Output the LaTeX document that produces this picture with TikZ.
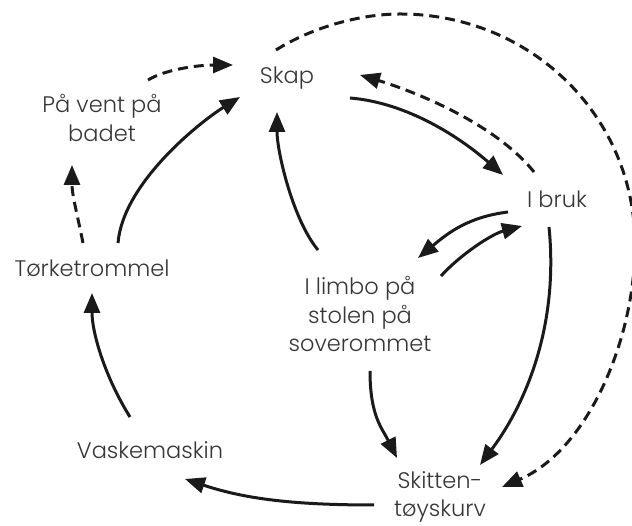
\documentclass[tikz,border=0pt]{standalone}
\usepackage{fontspec}
\setmainfont{Poppins}[UprightFont=* Light]
\usetikzlibrary{arrows.meta}
\definecolor{txt}{HTML}{363636}
\definecolor{ln}{HTML}{1A1A1A}
\tikzset{
  lbl/.style={text=txt,font=\fontsize{22.5}{28.5}\selectfont,align=center,inner sep=0pt},
  conn/.style={draw=ln,line width=3pt,-{Triangle[length=20pt,width=16pt]}},
  dconn/.style={conn,dash pattern=on 10pt off 6pt}
}
\begin{document}
\begin{tikzpicture}[x=1pt,y=1pt]
\useasboundingbox (0,0) rectangle (632,526);
\node[lbl] (skap) at (287,448) {Skap};
\node[lbl] (pavent) at (102,408) {På vent på\\badet};
\node[lbl] (bruk) at (557,327) {I bruk};
\node[lbl] (tork) at (92,258) {Tørketrommel};
\node[lbl] (limbo) at (360,212) {I limbo på\\stolen på\\soverommet};
\node[lbl] (vask) at (150,76) {Vaskemaskin};
\node[lbl] (skitt) at (440,29) {Skitten-\\tøyskurv};
% 1
\draw[dconn] ([shift={(-9,25)}]tork.center) .. controls +(-6,30) and +(0,-30) .. ([shift={(-30,-47)}]pavent.center);
% 2
\draw[dconn] ([shift={(46,38)}]pavent.center) .. controls +(20,12) and +(-30,0) .. ([shift={(-54,13)}]skap.center);
% 3
\draw[conn] ([shift={(26,25)}]tork.center) .. controls +(5,60) and +(-40,-25) .. ([shift={(-47,-19)}]skap.center);
% 4
\draw[conn] ([shift={(-42,64)}]limbo.center) .. controls +(-25,30) and +(0,-40) .. ([shift={(-10,-34)}]skap.center);
% 5
\draw[dconn] ([shift={(-11,28)}]skap.center) .. controls (311,498) and (359,512) .. (400,512)
  .. controls (530,512) and (635,411) .. (635,281)
  .. controls (635,187) and (588,76) .. ([shift={(62,10)}]skitt.center);
% 6
\draw[conn] ([shift={(63,-20)}]skap.center) .. controls +(60,-5) and +(-40,35) .. ([shift={(-54,24)}]bruk.center);
% 7
\draw[dconn] ([shift={(-23,27)}]bruk.center) .. controls +(-40,50) and +(50,-15) .. ([shift={(73,3)}]skap.center);
% 8
\draw[conn] ([shift={(-49,-13)}]bruk.center) .. controls +(-40,-5) and +(30,25) .. ([shift={(58,56)}]limbo.center);
% 9
\draw[conn] ([shift={(81,38)}]limbo.center) .. controls +(20,22) and +(-30,-8) .. ([shift={(-35,-27)}]bruk.center);
% 10
\draw[conn] ([shift={(-8,-28)}]bruk.center) .. controls +(10,-100) and +(45,60) .. ([shift={(40,32)}]skitt.center);
% 11
\draw[conn] ([shift={(10,-57)}]limbo.center) .. controls +(0,-45) and +(-15,30) .. ([shift={(-43,39)}]skitt.center);
% 12
\draw[conn] ([shift={(-66,-8)}]skitt.center) .. controls +(-80,0) and +(60,-20) .. ([shift={(35,-29)}]vask.center);
% 13
\draw[conn] ([shift={(-20,33)}]vask.center) .. controls +(-25,40) and +(0,-40) .. ([shift={(0,-25)}]tork.center);
\end{tikzpicture}
\end{document}
